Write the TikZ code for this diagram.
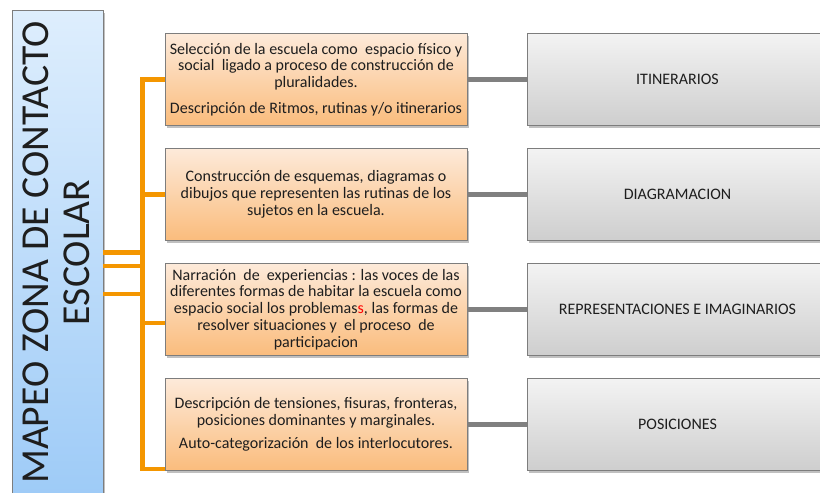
\documentclass[tikz,border=0pt]{standalone}
\usepackage{fontspec}
\setmainfont{Carlito}
\usetikzlibrary{shadows}
\definecolor{otop}{RGB}{253,234,218}
\definecolor{obot}{RGB}{250,188,124}
\definecolor{gtop}{RGB}{243,243,243}
\definecolor{gbot}{RGB}{206,206,206}
\definecolor{btop}{RGB}{222,238,253}
\definecolor{bbot}{RGB}{158,203,247}
\definecolor{boxborder}{RGB}{125,125,125}
\definecolor{orangeline}{RGB}{244,150,0}
\definecolor{grayline}{RGB}{128,128,128}
\definecolor{txt}{RGB}{30,30,30}
\begin{document}
\begin{tikzpicture}[x=1pt,y=-1pt,
  shad/.style={drop shadow={shadow xshift=1.5pt,shadow yshift=-2.5pt,opacity=0.35,fill=black!70}},
  obox/.style={shad,draw=boxborder,line width=0.8pt,top color=otop,bottom color=obot,
    minimum width=302pt,minimum height=92pt,inner sep=0pt,align=center,text=txt,
    font=\fontsize{16}{16.8}\selectfont},
  gbox/.style={shad,draw=boxborder,line width=0.8pt,top color=gtop,bottom color=gbot,
    minimum width=301pt,minimum height=92pt,inner sep=0pt,align=center,text=txt,
    font=\fontsize{16}{16.8}\selectfont},
  bbox/.style={shad,draw=boxborder,line width=0.8pt,top color=btop,bottom color=bbot,
    minimum width=91pt,minimum height=485pt,inner sep=0pt},
  oline/.style={draw=orangeline,line width=4.5pt},
  gline/.style={draw=grayline,line width=5pt}]
\clip (0,0) rectangle (820,493);
\fill[white] (0,0) rectangle (820,493);
% left title box
\node[bbox] (title) at (57.5,252.5) {};
\node[rotate=90,align=center,text=txt,font=\fontsize{39.6}{41}\selectfont] (titletext) at ([xshift=-1.5pt]title.center)
  {MAPEO ZONA DE CONTACTO\\ESCOLAR};
% orange boxes
\node[obox] (o1) at (316,79.5) {Selección de la escuela como~ espacio físico y\\social~ ligado a proceso de construcción de\\pluralidades.\\[9pt]Descripción de Ritmos, rutinas y/o itinerarios};
\node[obox] (o2) at (316,194.5) {Construcción de esquemas, diagramas o\\dibujos que representen las rutinas de los\\sujetos en la escuela.};
\node[obox] (o3) at (316,309.5) {Narración~ de~ experiencias : las voces de las\\diferentes formas de habitar la escuela como\\espacio social los problemas\textcolor{red}{s}, las formas de\\resolver situaciones y~ el proceso~ de\\participacion};
\node[obox] (o4) at (316,424.5) {Descripción de tensiones, fisuras, fronteras,\\posiciones dominantes y marginales.\\[7pt]Auto-categorización~ de los interlocutores.};
% gray boxes
\node[gbox] (g1) at (677.5,79.5) {ITINERARIOS};
\node[gbox] (g2) at (677.5,194.5) {DIAGRAMACION};
\node[gbox] (g3) at (677.5,309.5) {REPRESENTACIONES E IMAGINARIOS};
\node[gbox] (g4) at (677.5,424.5) {POSICIONES};
% orange connectors
\coordinate (trunk) at (142.5,0);
\coordinate (b3) at ([yshift=-13.5pt]o3.west);
\coordinate (b4) at ([yshift=2pt]o4.south west);
\coordinate (t1) at (title.east);
\coordinate (t2) at ([yshift=-13.5pt]title.east);
\coordinate (t3) at ([yshift=-41.5pt]title.east);
\draw[oline] (o1.west) -- (o1.west -| trunk) |- (b4);
\draw[oline] (o2.west) -- (o2.west -| trunk);
\draw[oline] (b3) -- (b3 -| trunk);
\draw[oline] (t1) -- (t1 -| trunk);
\draw[oline] (t2) -- (t2 -| trunk);
\draw[oline] (t3) -- (t3 -| trunk);
% gray connectors
\draw[gline] (o1.east) -- (g1.west);
\draw[gline] (o2.east) -- (g2.west);
\draw[gline] (o3.east) -- (g3.west);
\draw[gline] (o4.east) -- (g4.west);
\end{tikzpicture}
\end{document}
